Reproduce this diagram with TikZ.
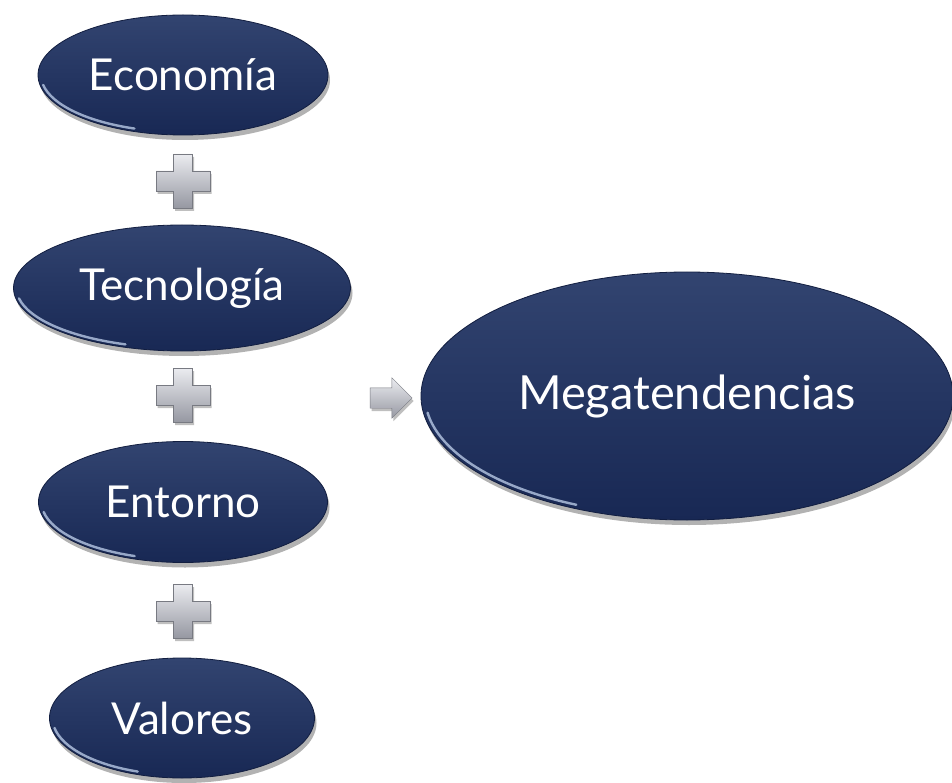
\documentclass[tikz,border=0pt]{standalone}
\usepackage{fontspec}
\setmainfont{Lato}
\usetikzlibrary{shapes.geometric,shapes.arrows,shadows}
\definecolor{navyTop}{RGB}{50,68,112}
\definecolor{navyBot}{RGB}{24,40,84}
\definecolor{navyEdge}{RGB}{18,30,64}
\definecolor{rimLight}{RGB}{205,222,248}
\definecolor{plusTop}{RGB}{235,236,240}
\definecolor{plusBot}{RGB}{150,152,162}
\tikzset{
  oval/.style={ellipse, inner sep=0pt, top color=navyTop, bottom color=navyBot,
    draw=navyEdge, line width=0.8pt, text=white,
    font=\fontsize{44}{50}\selectfont,
    drop shadow={shadow xshift=2pt, shadow yshift=-5pt, opacity=0.3, fill=black}},
  rim/.style={draw=rimLight, line width=2.4pt, opacity=0.7, line cap=round},
  plusshape/.style={top color=plusTop, bottom color=plusBot, draw=plusBot!80!black,
    line width=0.4pt,
    drop shadow={shadow xshift=1.5pt, shadow yshift=-3pt, opacity=0.25, fill=black}},
  arrowshape/.style={single arrow, draw=plusBot!80!black, line width=0.4pt,
    top color=plusTop, bottom color=plusBot, inner sep=10pt,
    minimum height=42pt, minimum width=40pt, single arrow head extend=10pt,
    drop shadow={shadow xshift=1.5pt, shadow yshift=-3pt, opacity=0.25, fill=black}},
  pics/plus/.style={code={
    \path[plusshape] (-9.5,27) -- (9.5,27) -- (9.5,10) -- (27,10) -- (27,-10)
      -- (9.5,-10) -- (9.5,-27) -- (-9.5,-27) -- (-9.5,-10) -- (-27,-10)
      -- (-27,10) -- (-9.5,10) -- cycle;
  }}
}
\begin{document}
\begin{tikzpicture}[x=1pt,y=1pt]
\useasboundingbox (0,0) rectangle (952,-783);

\node[oval, minimum width=290pt, minimum height=120pt] (eco) at (183,-75) {Economía};
\node[oval, minimum width=337pt, minimum height=126pt] (tec) at (182,-288) {Tecnología};
\node[oval, minimum width=289pt, minimum height=121pt] (ent) at (183,-502) {Entorno};
\node[oval, minimum width=265pt, minimum height=120pt] (val) at (182,-718) {Valores};
\node[oval, minimum width=532pt, minimum height=248pt,
      font=\fontsize{47}{53}\selectfont] (meg) at (687,-396) {Megatendencias};

% light rims on lower-left edges
\draw[rim] ([shift={(190:142 and 57)}]eco.center) arc[start angle=190, end angle=250, x radius=142, y radius=57];
\draw[rim] ([shift={(190:165.5 and 60)}]tec.center) arc[start angle=190, end angle=250, x radius=165.5, y radius=60];
\draw[rim] ([shift={(190:141.5 and 57.5)}]ent.center) arc[start angle=190, end angle=250, x radius=141.5, y radius=57.5];
\draw[rim] ([shift={(190:129.5 and 57)}]val.center) arc[start angle=190, end angle=250, x radius=129.5, y radius=57];
\draw[rim] ([shift={(188:262 and 120)}]meg.center) arc[start angle=188, end angle=245, x radius=262, y radius=120];

\pic (p1) at (183,-181) {plus};
\pic (p2) at (183,-395) {plus};
\pic (p3) at (183,-611) {plus};

\node[arrowshape] (arr) at (386,-398) {};
\end{tikzpicture}
\end{document}
